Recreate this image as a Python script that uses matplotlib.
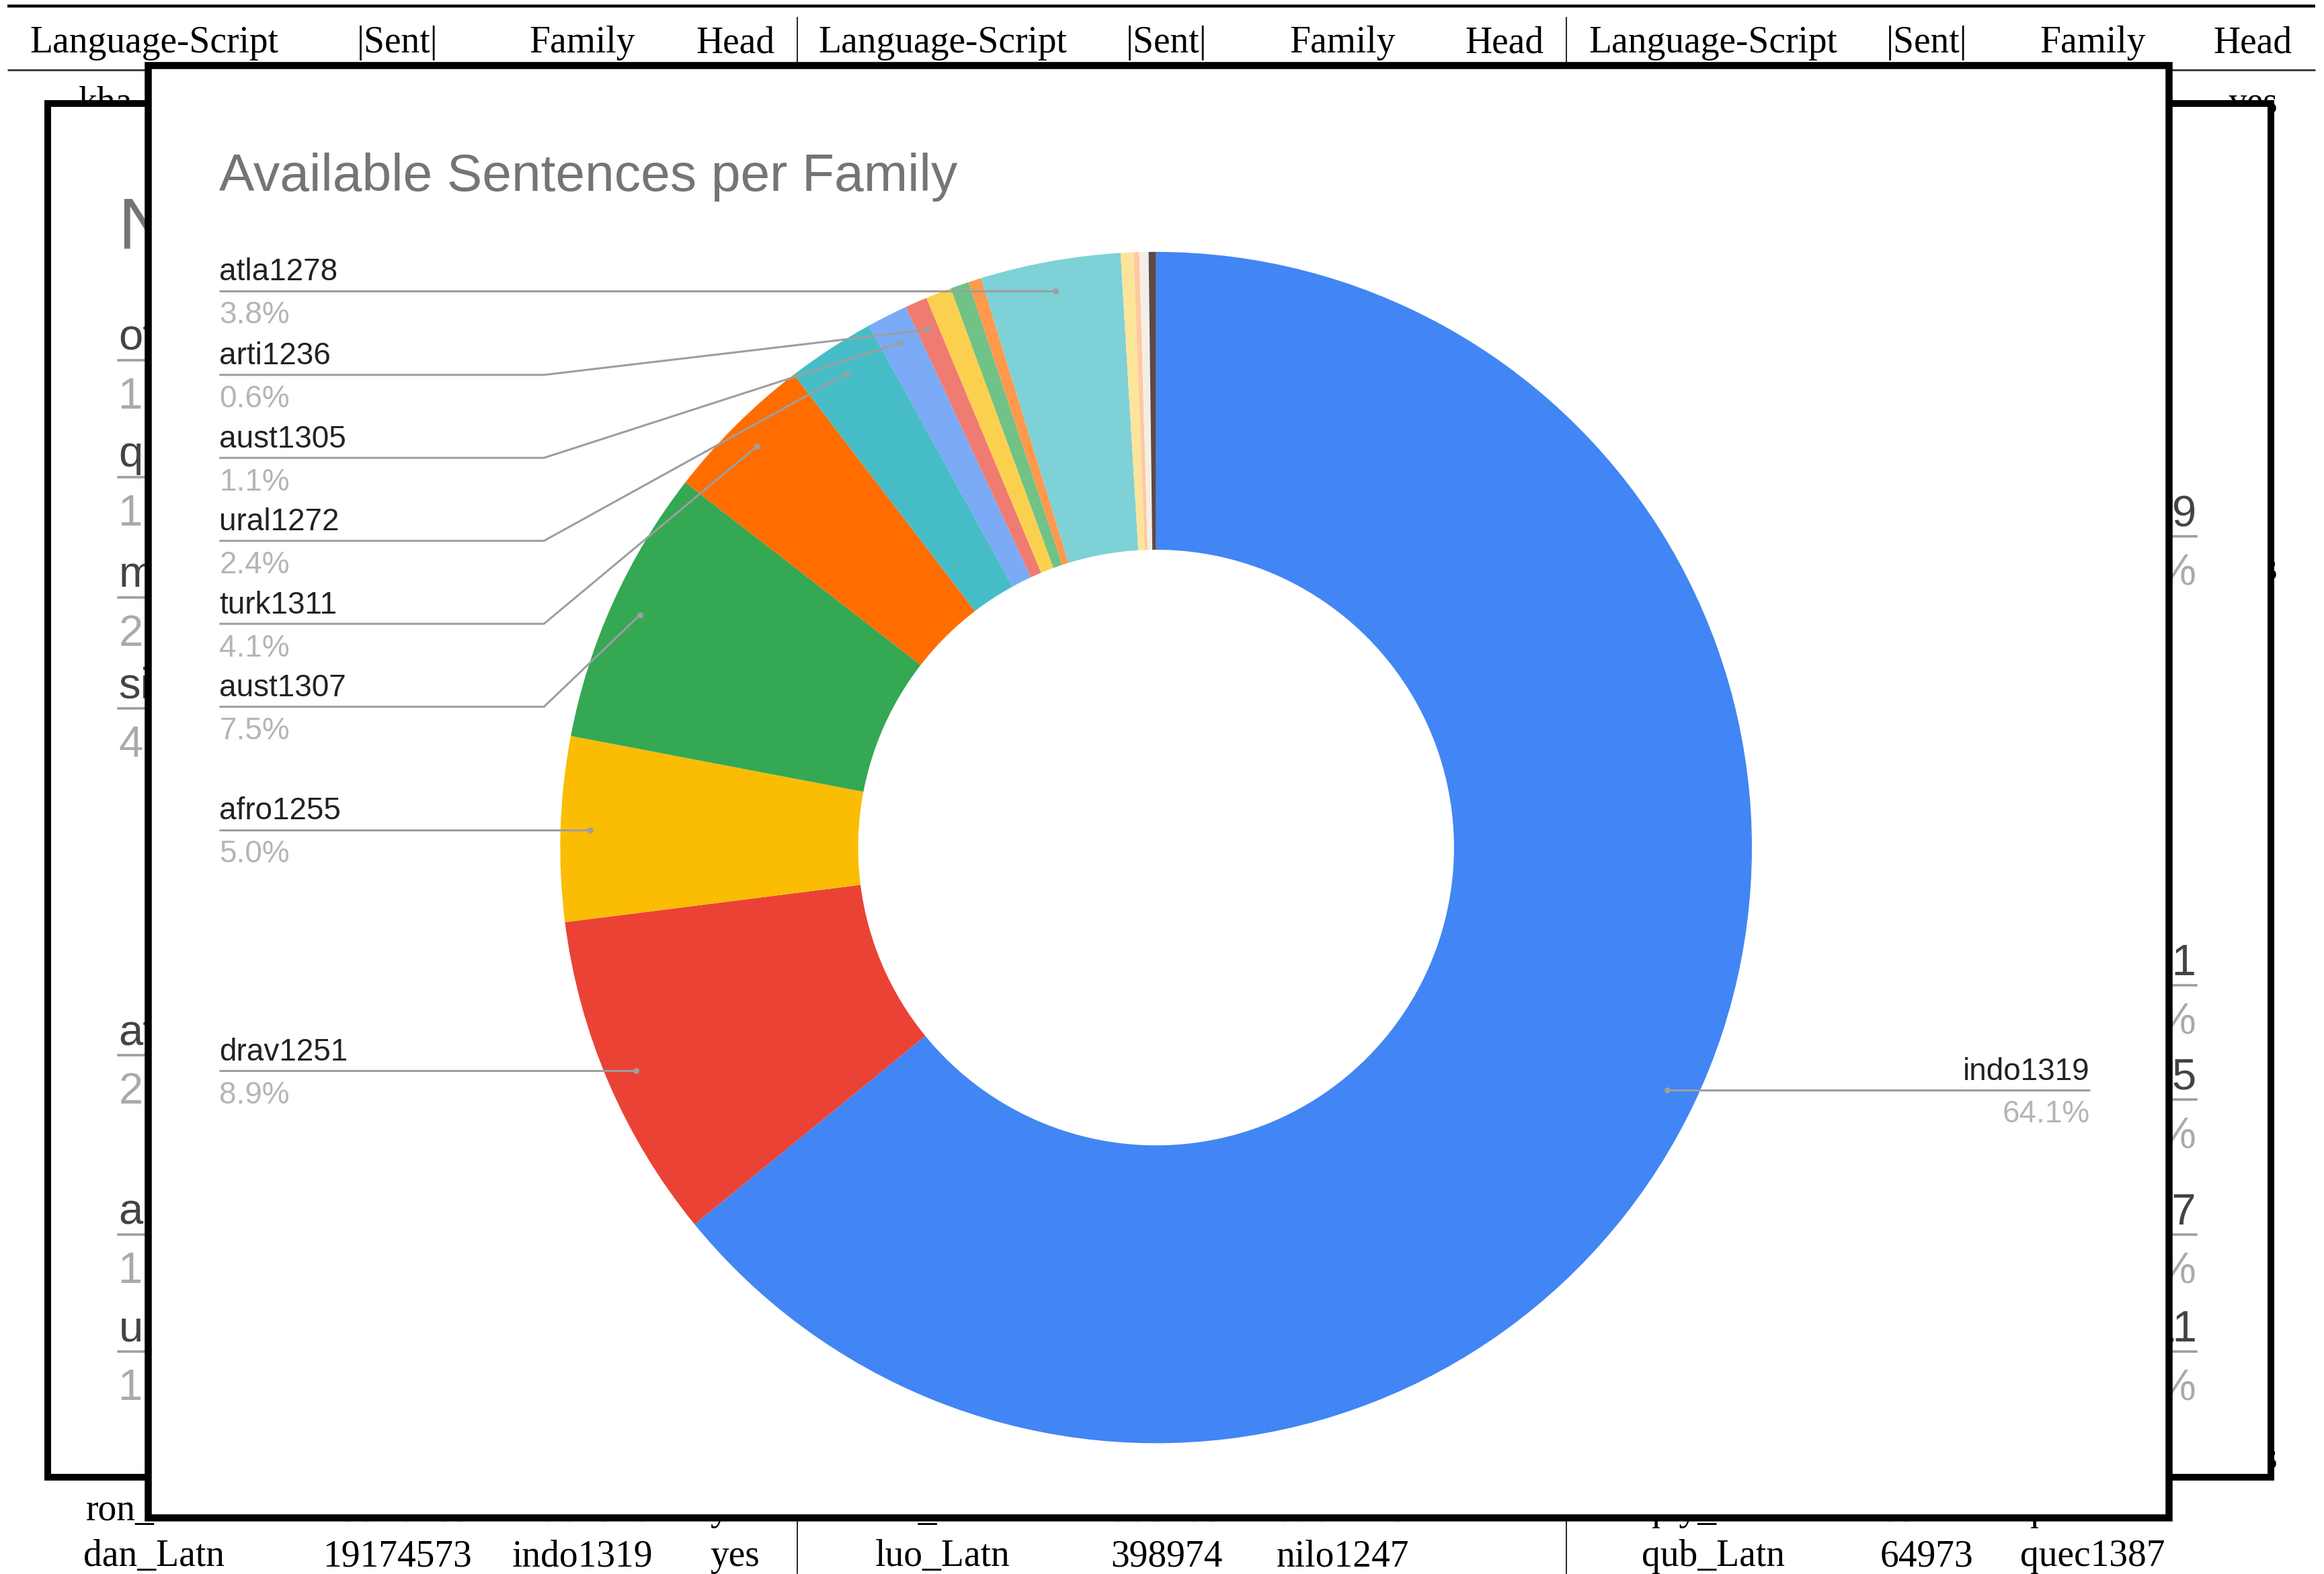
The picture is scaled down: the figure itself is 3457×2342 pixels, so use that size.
import matplotlib
matplotlib.use('Agg')
import matplotlib.pyplot as plt
from matplotlib.patches import Rectangle
import numpy as np

# ---------------- data ----------------
families = ['indo1319', 'drav1251', 'afro1255', 'aust1307', 'turk1311', 'ural1272',
            'aust1305', 'arti1236', 'sino1245', 'nilo1247', 'otom1299', 'atla1278',
            'quec1387', 'maya1287', 'tupi1275', 'kart1248']
shares = [64.1, 8.9, 5.0, 7.5, 4.1, 2.4, 1.1, 0.6, 0.7, 0.5, 0.35, 3.8, 0.35, 0.15, 0.25, 0.2]
colors = ['#4285F4', '#EA4335', '#FBBC04', '#34A853', '#FF6D01', '#46BDC6', '#7BAAF7',
          '#F07B72', '#FCD04F', '#71C287', '#FF994D', '#7ED1D7', '#FDE49B', '#FFC8A0',
          '#F4EFE6', '#5B4A48']
labeled = ['atla1278', 'arti1236', 'aust1305', 'ural1272', 'turk1311', 'aust1307',
           'afro1255', 'drav1251', 'indo1319']

title = 'Available Sentences per Family'

header = ['Language-Script', '|Sent|', 'Family', 'Head']
row_top = ['kha_Beng', '', '', '', '', '', '', '', '', '', '', 'yes']
row_ron = ['ron_Latn', '25326485', 'indo1319', 'yes', 'lin_Latn', '399105', 'atla1278', '',
           'quy_Latn', '65214', 'quec1387', '']
row_dan = ['dan_Latn', '19174573', 'indo1319', 'yes', 'luo_Latn', '398974', 'nilo1247', '',
           'qub_Latn', '64973', 'quec1387', '']

back_title = 'Number of Languages per Family'
back_left_names = ['otom1299', 'quec1387', 'maya1287', 'sino1245', 'atla1278', 'aust1307', 'ural1272']
back_left_pcts = ['1.9%', '1.6%', '2.8%', '4.3%', '2.5%', '1.4%', '1.2%']
back_right_names = ['indo1319', 'drav1251', 'afro1255', 'nilo1247', 'turk1311']
back_right_pcts = ['41.2%', '3.1%', '6.4%', '2.2%', '3.0%']

# ---------------- layout ----------------
W, H = 3457, 2342
S = W / 1568.0


def X(v):
    return v * S


def Y(v):
    return H - v * S


fig = plt.figure(figsize=(W / 100, H / 100), dpi=100)
ax = fig.add_axes([0, 0, 1, 1])
SERIF = 'Liberation Serif'
SANS = 'Liberation Sans'

# ---- background table ----
ax.plot([X(5), X(1562)], [Y(4), Y(4)], color='black', lw=3.2, zorder=1, solid_capstyle='butt')
ax.plot([X(5), X(1562)], [Y(47), Y(47)], color='#333333', lw=2.0, zorder=1, solid_capstyle='butt')
for sx in [538, 1057]:
    ax.plot([X(sx), X(sx)], [Y(12), Y(1062)], color='black', lw=1.2, zorder=1)

col_x = [104, 268, 393, 496, 636, 787, 906, 1015, 1156, 1300, 1412, 1520]
for i, cx in enumerate(col_x):
    ax.text(X(cx), Y(35.5), header[i % 4], family=SERIF, fontsize=40, ha='center',
            va='baseline', color='black', zorder=1)
for row, yb in [(row_top, 76), (row_ron, 1026), (row_dan, 1057)]:
    for cx, t in zip(col_x, row):
        if t:
            ax.text(X(cx), Y(yb), t, family=SERIF, fontsize=40, ha='center',
                    va='baseline', color='black', zorder=1)
for yb in [391, 991]:
    ax.text(X(1520), Y(yb), 'yes', family=SERIF, fontsize=40, ha='center',
            va='baseline', color='black', zorder=1)

# ---- back chart box ----
ax.add_patch(Rectangle((X(32), Y(997)), X(1532) - X(32), Y(70) - Y(997),
                       facecolor='white', edgecolor='black', lw=7.2, zorder=2))
ax.text(X(80), Y(168), back_title, family=SANS, fontsize=78, color='#757575',
        ha='left', va='baseline', zorder=3)
left_lines = [243, 322, 403, 478, 712, 833, 912]
for nm, pc, ly in zip(back_left_names, back_left_pcts, left_lines):
    ax.plot([X(80), X(300)], [Y(ly), Y(ly)], color='#9e9e9e', lw=2.6, zorder=3)
    ax.text(X(80), Y(ly - 7), nm, family=SANS, fontsize=47, color='#444444',
            ha='left', va='baseline', zorder=3)
    ax.text(X(80), Y(ly + 33), pc, family=SANS, fontsize=47, color='#aaaaaa',
            ha='left', va='baseline', zorder=3)
right_lines = [362, 665, 742, 833, 912]
for nm, pc, ly in zip(back_right_names, back_right_pcts, right_lines):
    ax.plot([X(1300), X(1482)], [Y(ly), Y(ly)], color='#9e9e9e', lw=2.6, zorder=3)
    ax.text(X(1482), Y(ly - 7), nm, family=SANS, fontsize=47, color='#444444',
            ha='right', va='baseline', zorder=3)
    ax.text(X(1482), Y(ly + 33), pc, family=SANS, fontsize=47, color='#aaaaaa',
            ha='right', va='baseline', zorder=3)

# ---- front chart box ----
ax.add_patch(Rectangle((X(100), Y(1024)), X(1463) - X(100), Y(44) - Y(1024),
                       facecolor='white', edgecolor='black', lw=7.6, zorder=4))
ax.text(X(148), Y(129), title, family=SANS, fontsize=56.5, color='#757575',
        ha='left', va='baseline', zorder=7)

# ---- donut ----
cx, cy, R = X(780), Y(572), 402 * S
wedges, _ = ax.pie(shares, colors=colors, startangle=90, counterclock=False, radius=R,
                   center=(cx, cy), wedgeprops=dict(width=0.5 * R, linewidth=0),
                   frame=True)
for w in wedges:
    w.set_zorder(5)

# label placement (line y in screen units, None -> at the dot)
label_side = {'atla1278': ('L', None), 'arti1236': ('L', 253), 'aust1305': ('L', 309),
              'ural1272': ('L', 365), 'turk1311': ('L', 421), 'aust1307': ('L', 477),
              'afro1255': ('L', None), 'drav1251': ('L', None), 'indo1319': ('R', None)}
x_left, x_elbow, x_right = X(148), X(367), X(1410)
for name in labeled:
    i = families.index(name)
    w = wedges[i]
    th = np.deg2rad((w.theta1 + w.theta2) / 2.0)
    dx, dy = cx + 0.95 * R * np.cos(th), cy + 0.95 * R * np.sin(th)
    side, ly = label_side[name]
    pct = f'{shares[i]:.1f}%'
    if side == 'L':
        if ly is None:
            lyd = dy
            xs, ys = [x_left, dx], [lyd, dy]
        else:
            lyd = Y(ly)
            xs, ys = [x_left, x_elbow, dx], [lyd, lyd, dy]
        tx, ha = x_left, 'left'
    else:
        lyd = dy
        xs, ys = [dx, x_right], [dy, dy]
        tx, ha = x_right, 'right'
    ax.plot(xs, ys, color='#9e9e9e', lw=2.2, zorder=6, solid_capstyle='butt')
    ax.plot([dx], [dy], 'o', color='#9e9e9e', markersize=6.5, zorder=7, markeredgewidth=0)
    ax.text(tx, lyd + 7 * S, name, family=SANS, fontsize=33, color='#222222',
            ha=ha, va='baseline', zorder=7)
    ax.text(tx, lyd - 22 * S, pct, family=SANS, fontsize=33, color='#b5b5b5',
            ha=ha, va='baseline', zorder=7)

ax.set_xlim(0, W)
ax.set_ylim(0, H)
ax.set_aspect('auto')
ax.axis('off')

fig.savefig('out.png', dpi=100, facecolor='white')
